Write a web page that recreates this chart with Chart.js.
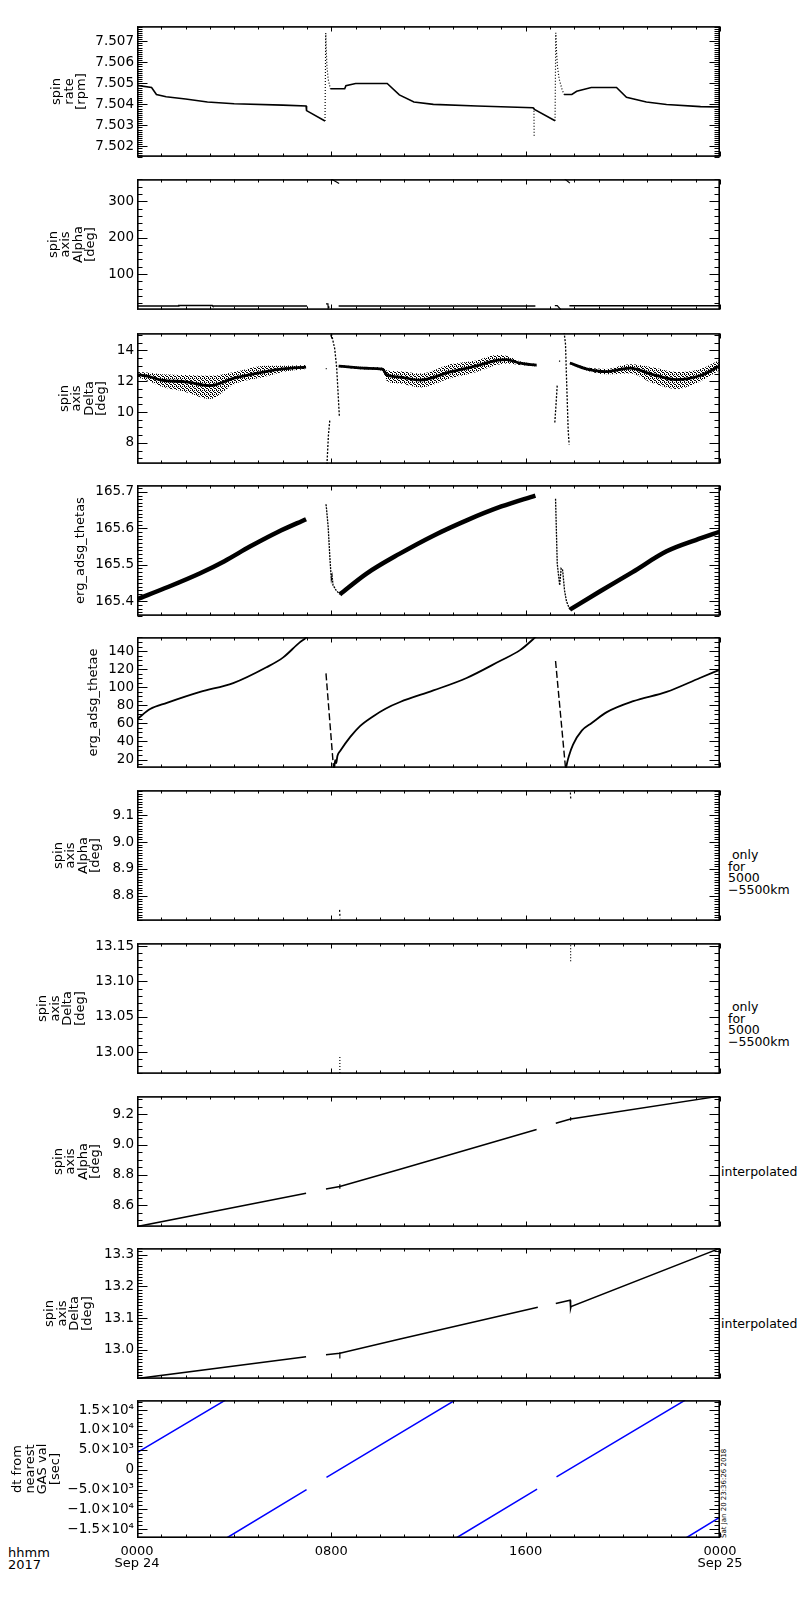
<!DOCTYPE html>
<html lang="en">
<head>
<meta charset="UTF-8">
<title>ERG spin axis 2017-09-24</title>
<script src="https://cdn.jsdelivr.net/npm/chart.js"></script>
<style>
  body { margin: 0; background: #fff; width: 800px; height: 1600px; position: relative; overflow: hidden;
         font-family: "DejaVu Sans", sans-serif; color: #000; }
  canvas { position: absolute; left: 0; }
  .side { position: absolute; font-size: 12.5px; line-height: 11.7px; white-space: pre; }
  .stamp { position: absolute; font-size: 7px; line-height: 7px; white-space: pre;
           transform-origin: 0 0; transform: rotate(-90deg); }
</style>
</head>
<body>

<div class="side" style="left:728px; top:849px;"> only
for
5000
−5500km</div>
<div class="side" style="left:728px; top:1001px;"> only
for
5000
−5500km</div>
<div class="side" style="left:721px; top:1166px;">interpolated</div>
<div class="side" style="left:721px; top:1318px;">interpolated</div>
<div class="stamp" style="left:721px; top:1538px;">Sat Jan 20 23:36:26 2018</div>
<div class="side" style="left:8px; top:1547px; font-size:13px; line-height:12px;">hhmm
2017</div>

<script>
// time axis (hours of 2017-09-24)
const hourTicks = [0, 8, 16, 24];
const hourLabels = [["0000", "Sep 24"], ["0800"], ["1600"], ["0000", "Sep 25"]];

// spin rate [rpm]
const rateTicks = [7.502, 7.503, 7.504, 7.505, 7.506, 7.507];
const rateTickLabels = ["7.502", "7.503", "7.504", "7.505", "7.506", "7.507"];
const rateHours = [0, 0.6, 0.8, 1.2, 2.0, 2.9, 4.0, 6.0, 6.96, 6.98, 7.74, 7.86, 7.96, 8.55, 8.6, 9.0, 10.3, 10.8, 11.4, 12.2, 14.0, 16.3, 16.36, 17.21, 17.4, 17.58, 17.9, 18.1, 18.7, 19.74, 20.15, 20.97, 21.8, 23.2, 24];
const rateValues = [7.5049, 7.5048, 7.50447, 7.50436, 7.50425, 7.50411, 7.50403, 7.50396, 7.50392, 7.5037, 7.50321, null, 7.50474, 7.50474, 7.50489, 7.50499, 7.50499, 7.50445, 7.50411, 7.5040, 7.50392, 7.50384, 7.50376, 7.50322, null, 7.50447, 7.50447, 7.50462, 7.5048, 7.5048, 7.50433, 7.50411, 7.50399, 7.50389, 7.50387];
const rateSpikeHours = [7.74, 7.77, 7.79, 7.82, 7.87, 7.96, 16.3, 16.34, 16.35, 16.4, 17.21, 17.24, 17.27, 17.31, 17.38, 17.5, 17.58];
const rateSpikeValues = [7.50321, 7.5074, 7.5066, 7.5058, 7.5052, 7.50474, null, 7.50384, 7.50242, null, 7.50322, 7.5074, 7.5065, 7.5058, 7.5052, 7.5047, 7.50447];

// spin axis alpha [deg], full range
const alphaTicks = [100, 200, 300];
const alphaTickLabels = ["100", "200", "300"];
const alphaHours = [0, 1.7, 1.72, 3.1, 3.12, 7.0, 7.4, 8.3, 16.4, 16.8, 17.8, 24];
const alphaValues = [12, 12, 13.5, 13.5, 12, 12, null, 12, 12, null, 12.5, 12.5];
const alphaLowHours = [7.78, 7.86, 7.87, 7.92, 8.0, 17.2, 17.3, 17.45];
const alphaLowValues = [18, 18, 6, 10, null, 13, 13, 2];
const alphaTopHours = [7.98, 8.32, 8.5, 17.6, 17.82];
const alphaTopValues = [362, 349, null, 362, 350];

// spin axis delta [deg], full range (scatter band)
const deltaTicks = [8, 10, 12, 14];
const deltaTickLabels = ["8", "10", "12", "14"];
const deltaHours = [0, 0.5, 1.0, 2.0, 3.0, 4.0, 5.3, 6.0, 6.96, 7.4, 8.3, 9.45, 10.1, 10.3, 10.82, 11.65, 12.9, 13.98, 14.8, 15.2, 15.76, 16.45, 16.9, 17.82, 18.5, 19.3, 20.3, 21.2, 22.2, 23.2, 24];
const deltaMid = [12.43, 12.3, 12.07, 11.96, 11.72, 12.2, 12.63, 12.8, 12.92, null, 12.98, 12.84, 12.78, 12.4, 12.27, 12.07, 12.6, 13.0, 13.35, 13.4, 13.18, 13.04, null, 13.18, 12.8, 12.62, 12.85, 12.45, 12.1, 12.37, 13.0];
const deltaUpper = [12.6, 12.55, 12.45, 12.4, 12.35, 12.6, 13.0, 13.0, 13.05, null, 13.05, 12.92, 12.88, 12.7, 12.65, 12.5, 13.1, 13.35, 13.7, 13.65, 13.3, 13.12, null, 13.25, 12.9, 12.8, 13.1, 12.9, 12.6, 12.8, 13.4];
const deltaLower = [12.25, 12.0, 11.65, 11.3, 10.85, 11.8, 12.3, 12.6, 12.8, null, 12.92, 12.76, 12.68, 12.0, 11.85, 11.6, 12.2, 12.6, 13.05, 13.15, 13.05, 12.96, null, 13.1, 12.7, 12.45, 12.5, 11.9, 11.5, 12.0, 12.75];
const deltaSpikeHours = [7.77, 7.81, 7.815, 7.82, 7.88, 7.94, 7.96, 7.98, 8.0, 8.14, 8.22, 8.33, 8.4, 17.2, 17.25, 17.3, 17.34, 17.37, 17.42, 17.44, 17.45, 17.58, 17.64, 17.68, 17.75, 17.79];
const deltaSpikeValues = [12.82, 12.82, null, 6.6, 8.5, 9.52, null, 14.9, 15.1, 14.1, 12.88, 9.73, null, 9.32, 10.5, 11.76, null, 13.3, 13.3, null, 15.2, 15.2, 14.4, 12.27, 8.82, 7.9];

// erg_adsg_thetas
const thetasTicks = [165.4, 165.5, 165.6, 165.7];
const thetasTickLabels = ["165.4", "165.5", "165.6", "165.7"];
const thetasHours = [0, 1.3, 2.6, 3.6, 4.65, 5.8, 6.96, 7.4, 8.35, 9.45, 10.8, 12.2, 13.57, 15.0, 16.4, 16.8, 17.82, 19.05, 20.4, 21.8, 23.0, 24];
const thetasValues = [165.406, 165.44, 165.477, 165.51, 165.55, 165.59, 165.625, null, 165.419, 165.476, 165.53, 165.58, 165.622, 165.66, 165.69, null, 165.377, 165.427, 165.48, 165.537, 165.568, 165.591];
const thetasFallHours = [7.78, 7.8, 7.87, 7.94, 8.0, 8.03, 8.07, 8.2, 8.35, 8.8, 17.23, 17.3, 17.4, 17.46, 17.52, 17.6, 17.68, 17.82];
const thetasFallValues = [165.666, 165.655, 165.604, 165.519, 165.46, 165.47, 165.444, 165.43, 165.419, null, 165.681, 165.503, 165.444, 165.49, 165.486, 165.43, 165.40, 165.377];

// erg_adsg_thetae
const thetaeTicks = [20, 40, 60, 80, 100, 120, 140];
const thetaeTickLabels = ["20", "40", "60", "80", "100", "120", "140"];
const thetaeHours = [0, 0.54, 1.23, 2.6, 3.96, 5.33, 6.02, 6.7, 6.96, 7.05, 7.5, 8.12, 8.16, 8.2, 8.25, 8.37, 8.78, 9.18, 9.73, 10.25, 10.83, 12.2, 13.57, 14.94, 15.77, 16.4, 16.5, 17.0, 17.66, 17.72, 17.78, 17.95, 18.31, 18.72, 19.34, 20.43, 21.8, 23.17, 24];
const thetaeValues = [64.5, 75.8, 82.7, 94.8, 104.5, 122, 133, 149.6, 154.7, 158, null, 10.7, 19.3, 16, 24, 29.6, 45, 57, 68, 76.5, 83.6, 96.4, 110.2, 129, 141, 155.4, 158, null, 10.7, 18, 24, 36.5, 51.9, 60.4, 72.4, 84.5, 94.8, 110.2, 119.4];
const thetaeDashHours = [7.78, 8.09, 8.5, 17.23, 17.64];
const thetaeDashValues = [115.3, 10.7, null, 129, 10.7];

// spin axis alpha / delta, only for 5000-5500 km
const onlyAlphaTicks = [8.8, 8.9, 9.0, 9.1];
const onlyAlphaTickLabels = ["8.8", "8.9", "9.0", "9.1"];
const onlyAlphaHours = [8.34, 8.36, 8.6, 17.84, 17.86];
const onlyAlphaValues = [8.748, 8.717, null, 9.184, 9.155];
const onlyDeltaTicks = [13.00, 13.05, 13.10, 13.15];
const onlyDeltaTickLabels = ["13.00", "13.05", "13.10", "13.15"];
const onlyDeltaHours = [8.35, 8.351, 8.6, 17.85, 17.851];
const onlyDeltaValues = [12.993, 12.969, null, 13.16, 13.127];

// spin axis alpha / delta, interpolated
const interpAlphaTicks = [8.6, 8.8, 9.0, 9.2];
const interpAlphaTickLabels = ["8.6", "8.8", "9.0", "9.2"];
const interpAlphaHours = [0, 6.96, 7.4, 7.78, 8.35, 10.83, 16.45, 16.8, 17.24, 17.85, 24];
const interpAlphaValues = [8.458, 8.678, null, 8.707, 8.723, 8.837, 9.1, null, 9.141, 9.169, 9.32];
const interpAlphaMarkHours = [8.35, 8.351, 8.5, 17.85, 17.851];
const interpAlphaMarkValues = [8.738, 8.708, null, 9.18, 9.158];
const interpDeltaTicks = [13.0, 13.1, 13.2, 13.3];
const interpDeltaTickLabels = ["13.0", "13.1", "13.2", "13.3"];
const interpDeltaHours = [0, 6.96, 7.4, 7.78, 8.35, 10.83, 16.5, 16.8, 17.24, 17.83, 17.85, 17.87, 24];
const interpDeltaValues = [12.909, 12.978, null, 12.984, 12.989, 13.034, 13.134, null, 13.146, 13.156, 13.13, 13.136, 13.32];
const interpDeltaMarkHours = [8.35, 8.351, 8.5];
const interpDeltaMarkValues = [12.992, 12.972, null];

// dt from nearest GAS val [sec]
const dtTicks = [-15000, -10000, -5000, 0, 5000, 10000, 15000];
const dtTickLabels = ["−1.5×10⁴", "−1.0×10⁴", "−5.0×10³", "0", "5.0×10³", "1.0×10⁴", "1.5×10⁴"];
const dtHours = [0, 3.64, 3.66, 3.69, 6.98, 7.4, 7.8, 13.1, 13.12, 13.14, 16.47, 16.9, 17.27, 22.57, 22.58, 22.6, 24];
const dtValues = [4293, 17500, null, -17200, -5049, null, -1951, 17500, null, -17200, -4878, null, -1805, 17500, null, -17200, -11951];

const FONT = "DejaVu Sans";
const PLOT_LEFT = 137, PLOT_RIGHT = 720, PLOT_H = 141, PAD_TOP = 8;

// small stipple tile so the delta scatter band reads as dots, not a flat grey
const stippleTile = document.createElement("canvas");
stippleTile.width = 4; stippleTile.height = 4;
(() => {
  const g = stippleTile.getContext("2d");
  g.fillStyle = "#000";
  [[0, 0], [2, 0], [1, 1], [3, 2], [0, 3], [2, 2]].forEach(([x, y]) => g.fillRect(x, y, 1, 1));
})();

function series(hours, values, style) {
  return Object.assign({
    data: hours.map((h, i) => ({ x: h, y: values[i] })),
    borderColor: "#000", borderWidth: 1.3, pointRadius: 0, fill: false, tension: 0
  }, style);
}

// IDL style frame with inward ticks, drawn from the chart scales
const idlFrame = {
  id: "idlFrame",
  afterDatasetsDraw(chart, args, opts) {
    const { ctx, chartArea: a, scales: { x, y } } = chart;
    const L = Math.round(a.left) + 0.5, R = Math.round(a.right) - 0.5;
    const T = Math.round(a.top) + 0.5, B = Math.round(a.bottom) - 0.5;
    ctx.save();
    ctx.strokeStyle = "#000";
    ctx.lineWidth = 1;
    ctx.beginPath();
    for (let h = 0; h <= 24; h++) {
      const px = Math.round(x.getPixelForValue(h)) + 0.5;
      const len = h % 8 === 0 ? 5 : 3;
      ctx.moveTo(px, T); ctx.lineTo(px, T + len);
      ctx.moveTo(px, B); ctx.lineTo(px, B - len);
    }
    const step = opts.minor;
    const n0 = Math.ceil(y.min / step - 1e-6), n1 = Math.floor(y.max / step + 1e-6);
    for (let n = n0; n <= n1; n++) {
      const py = Math.round(y.getPixelForValue(n * step)) + 0.5;
      ctx.moveTo(L, py); ctx.lineTo(L + 5, py);
      ctx.moveTo(R, py); ctx.lineTo(R - 5, py);
    }
    y.ticks.forEach(t => {
      const py = Math.round(y.getPixelForValue(t.value)) + 0.5;
      ctx.moveTo(L, py); ctx.lineTo(L + 10, py);
      ctx.moveTo(R, py); ctx.lineTo(R - 10, py);
    });
    ctx.stroke();
    ctx.lineWidth = 1.6;
    ctx.strokeRect(a.left + 0.8, a.top + 0.8, a.width - 1.6, a.height - 1.6);
    ctx.restore();
  }
};

const smooth = { cubicInterpolationMode: "monotone" };

const panels = [
  { top: 23, title: ["spin", "rate", "[rpm]"], titleX: 57, min: 7.5015, max: 7.50772,
    ticks: rateTicks, labels: rateTickLabels, minor: 0.0001,
    sets: [series(rateHours, rateValues, { borderWidth: 1.6 }),
           series(rateSpikeHours, rateSpikeValues, { borderWidth: 1.2, borderDash: [1, 2] })] },
  { top: 176, title: ["spin", "axis", "Alpha", "[deg]"], titleX: 53.5, min: 1.3, max: 361,
    ticks: alphaTicks, labels: alphaTickLabels, minor: 20,
    sets: [series(alphaHours, alphaValues, { borderWidth: 1.5 }),
           series(alphaLowHours, alphaLowValues, { borderWidth: 1.2 }),
           series(alphaTopHours, alphaTopValues, { borderWidth: 1.2 })] },
  { top: 330, title: ["spin", "axis", "Delta", "[deg]"], titleX: 64.5, min: 6.64, max: 15.12,
    ticks: deltaTicks, labels: deltaTickLabels, minor: 0.5,
    sets: [series(deltaHours, deltaLower, Object.assign({ borderWidth: 0 }, smooth)),
           series(deltaHours, deltaUpper, Object.assign({ borderWidth: 0, fill: "-1",
             backgroundColor: c => c.chart.ctx.createPattern(stippleTile, "repeat") }, smooth)),
           series(deltaHours, deltaMid, Object.assign({ borderWidth: 2.8 }, smooth)),
           series(deltaSpikeHours, deltaSpikeValues, { borderWidth: 1.3, borderDash: [2, 1.5] })] },
  { top: 482, title: ["erg_adsg_thetas"], titleX: 80.5, min: 165.36, max: 165.7186,
    ticks: thetasTicks, labels: thetasTickLabels, minor: 0.01,
    sets: [series(thetasHours, thetasValues, Object.assign({ borderWidth: 4.5 }, smooth)),
           series(thetasFallHours, thetasFallValues, { borderWidth: 1.3, borderDash: [2, 1] })] },
  { top: 634, title: ["erg_adsg_thetae"], titleX: 93.5, min: 10.75, max: 155.4,
    ticks: thetaeTicks, labels: thetaeTickLabels, minor: 5,
    sets: [series(thetaeHours, thetaeValues, Object.assign({ borderWidth: 1.8 }, smooth)),
           series(thetaeDashHours, thetaeDashValues, { borderWidth: 1.4, borderDash: [7, 3] })] },
  { top: 787, title: ["spin", "axis", "Alpha", "[deg]"], titleX: 58.5, min: 8.707, max: 9.193,
    ticks: onlyAlphaTicks, labels: onlyAlphaTickLabels, minor: 0.01,
    sets: [series(onlyAlphaHours, onlyAlphaValues, { borderWidth: 1.2, borderDash: [2, 2] })] },
  { top: 940, title: ["spin", "axis", "Delta", "[deg]"], titleX: 43, min: 12.969, max: 13.1544,
    ticks: onlyDeltaTicks, labels: onlyDeltaTickLabels, minor: 0.01,
    sets: [series(onlyDeltaHours, onlyDeltaValues, { borderWidth: 1.2, borderDash: [1, 2] })] },
  { top: 1093, title: ["spin", "axis", "Alpha", "[deg]"], titleX: 58.5, min: 8.456, max: 9.32,
    ticks: interpAlphaTicks, labels: interpAlphaTickLabels, minor: 0.05,
    sets: [series(interpAlphaHours, interpAlphaValues, { borderWidth: 1.5 }),
           series(interpAlphaMarkHours, interpAlphaMarkValues, { borderWidth: 1.2 })] },
  { top: 1245, title: ["spin", "axis", "Delta", "[deg]"], titleX: 50, min: 12.908, max: 13.3206,
    ticks: interpDeltaTicks, labels: interpDeltaTickLabels, minor: 0.01,
    sets: [series(interpDeltaHours, interpDeltaValues, { borderWidth: 1.5 }),
           series(interpDeltaMarkHours, interpDeltaMarkValues, { borderWidth: 1.2 })] },
  { top: 1397, title: ["dt from", "nearest", "GAS val", "[sec]"], titleX: 18, min: -17200, max: 17500,
    ticks: dtTicks, labels: dtTickLabels, minor: 1000, bottom: true,
    sets: [series(dtHours, dtValues, { borderWidth: 1.5, borderColor: "#0000ff" })] }
];

panels.forEach(p => {
  const axisH = p.bottom ? 60 : 0;
  const padBottom = p.bottom ? 0 : 4;
  const canvas = document.createElement("canvas");
  canvas.width = 800;
  canvas.height = PAD_TOP + PLOT_H + axisH + padBottom;
  canvas.style.top = (p.top - PAD_TOP) + "px";
  document.body.appendChild(canvas);

  new Chart(canvas.getContext("2d"), {
    type: "line",
    data: { datasets: p.sets },
    options: {
      responsive: false,
      animation: false,
      events: [],
      layout: { padding: { top: PAD_TOP, right: 800 - PLOT_RIGHT, left: 0, bottom: padBottom } },
      plugins: {
        legend: { display: false },
        tooltip: { enabled: false },
        idlFrame: { minor: p.minor }
      },
      scales: {
        x: {
          type: "linear", min: 0, max: 24,
          grid: { display: false, drawTicks: false },
          border: { display: false },
          afterBuildTicks: s => { s.ticks = hourTicks.map(v => ({ value: v })); },
          afterFit: s => { s.height = axisH; },
          ticks: {
            display: !!p.bottom, autoSkip: false, maxRotation: 0, padding: 8, color: "#000",
            font: { family: FONT, size: 13, lineHeight: 0.92 },
            callback: (v, i) => hourLabels[i]
          }
        },
        y: {
          type: "linear", min: p.min, max: p.max,
          grid: { display: false, drawTicks: false },
          border: { display: false },
          afterBuildTicks: s => { s.ticks = p.ticks.map(v => ({ value: v })); },
          afterFit: s => { s.width = PLOT_LEFT; },
          ticks: {
            autoSkip: false, padding: 3, color: "#000",
            font: { family: FONT, size: 13.5 },
            callback: (v, i) => p.labels[i]
          },
          title: {
            display: true, text: p.title, color: "#000",
            font: { family: FONT, size: 13, lineHeight: 0.96 },
            padding: { top: p.titleX - 6.24, bottom: 0 }
          }
        }
      }
    },
    plugins: [idlFrame]
  });
});
</script>
</body>
</html>
